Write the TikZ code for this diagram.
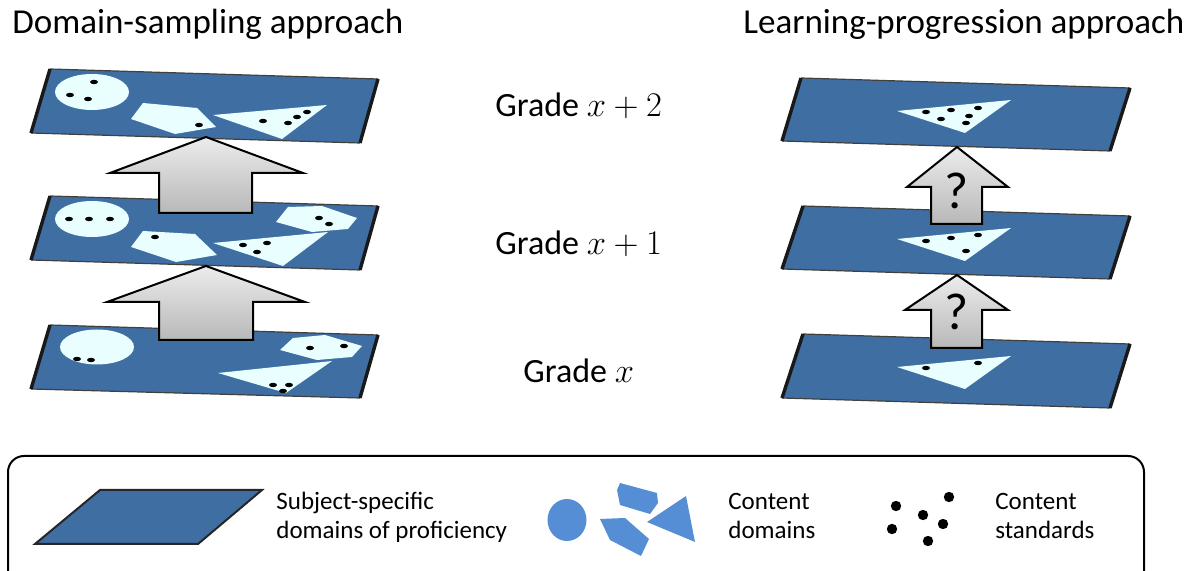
\documentclass[tikz,border=0pt]{standalone}
\usepackage{fontspec}
\setmainfont{Carlito}
\definecolor{planeblue}{RGB}{63,110,163}
\definecolor{shapecyan}{RGB}{232,254,255}
\definecolor{legblue}{RGB}{85,142,213}
\definecolor{arrtop}{RGB}{236,236,236}
\definecolor{arrbot}{RGB}{184,184,184}
\tikzset{
  planefill/.style={fill=planeblue},
  planethin/.style={draw=black!75,line width=0.6pt},
  planethick/.style={draw=black!90,line width=1.7pt},
  cshape/.style={fill=shapecyan},
  blockarrow/.style={draw=black,line width=1pt,line join=miter,top color=arrtop,bottom color=arrbot},
  titletext/.style={font=\fontsize{17.5}{20}\selectfont,inner sep=0pt},
  gradetext/.style={font=\fontsize{17}{20}\selectfont,inner sep=0pt,anchor=base west},
  legtext/.style={font=\fontsize{12.5}{15}\selectfont,inner sep=0pt,anchor=base west},
  qmark/.style={font=\fontsize{26}{30}\selectfont,inner sep=0pt},
}
\newcommand{\myplane}[4]{%
  \fill[planefill] #1 -- #2 -- #3 -- #4 -- cycle;
  \draw[planethin] #1 -- #2 #4 -- #3;
  \draw[planethick] #1 -- #4 #2 -- #3;}
\newcommand{\dt}[1]{\fill[black] #1 ellipse [x radius=2pt, y radius=1.1pt];}
\newcommand{\ldt}[1]{\fill[black] #1 circle [radius=2.6pt];}
\newcommand{\barrow}[8]{%
  \path[blockarrow] (#1,#2) -- (#5,#3) -- (#7,#3) -- (#7,#8) -- (#6,#8) -- (#6,#3) -- (#4,#3) -- cycle;}
\begin{document}
\begin{tikzpicture}[x=0.5pt,y=-0.5pt]
\useasboundingbox (0,0) rectangle (1190,571);
\clip (0,0) rectangle (1190,571);

% titles
\node[titletext,anchor=base west] (t1) at (12,34) {Domain-sampling approach};
\node[titletext,anchor=base west] (t2) at (743,34) {Learning-progression approach};

% ---------- left column ----------
% plane 1 (top)
\myplane{(50,69)}{(378,79)}{(360,143)}{(31,133)}
\fill[cshape] (92,92) ellipse [x radius=18.5pt, y radius=9pt];
\dt{(94,82)}\dt{(70,95)}\dt{(88,99)}
\fill[cshape] (143,103) -- (197,108) -- (216,127) -- (175,134) -- (131,119) -- cycle;
\dt{(199,125)}
\fill[cshape] (213,115) -- (327,105) -- (282,139) -- cycle;
\dt{(263,121)}\dt{(288,123)}\dt{(297,117)}\dt{(307,112)}

% plane 2
\myplane{(50,196)}{(378,206)}{(360,270)}{(31,260)}
\fill[cshape] (92,219) ellipse [x radius=18.5pt, y radius=9pt];
\dt{(69,219)}\dt{(89,219)}\dt{(110,219)}
\fill[cshape] (143,231) -- (195,234) -- (217,255) -- (176,262) -- (131,247) -- cycle;
\dt{(155,237)}
\fill[cshape] (213,243) -- (328,232) -- (283,266) -- cycle;
\dt{(243,245)}\dt{(267,243)}\dt{(257,252)}
\fill[cshape] (288,207) -- (322,206) -- (357,218) -- (348,229) -- (312,232) -- (276,222) -- cycle;
\dt{(319,218)}\dt{(329,224)}

% plane 3
\myplane{(50,325)}{(378,335)}{(360,398)}{(31,389)}
\fill[cshape] (97,347) ellipse [x radius=18.5pt, y radius=8.75pt];
\dt{(77,359)}\dt{(91,360)}
\fill[cshape] (293,338) -- (325,335) -- (362,346) -- (352,357) -- (317,360) -- (280,350) -- cycle;
\dt{(310,348)}\dt{(344,346)}
\fill[cshape] (218,373) -- (332,361) -- (286,393) -- cycle;
\dt{(273,385)}\dt{(289,385)}\dt{(283,391)}

% left arrows
\barrow{206}{137}{173}{110}{303}{159}{252}{213}
\barrow{206}{266}{302}{107}{305}{159}{253}{340}

% ---------- right column ----------
\myplane{(801,78)}{(1130,88)}{(1110,151)}{(782,141)}
\fill[cshape] (897,111) -- (1011,100) -- (965,133) -- cycle;
\dt{(926,112)}\dt{(951,110)}\dt{(978,108)}\dt{(941,119)}\dt{(969,116)}\dt{(966,123)}

\myplane{(803,206)}{(1130,216)}{(1110,279)}{(782,269)}
\fill[cshape] (897,239) -- (1011,228) -- (965,261) -- cycle;
\dt{(926,241)}\dt{(951,238)}\dt{(978,235)}\dt{(966,251)}

\myplane{(803,334)}{(1130,344)}{(1110,408)}{(782,398)}
\fill[cshape] (897,367) -- (1011,356) -- (965,389) -- cycle;
\dt{(926,368)}\dt{(978,363)}

\barrow{957}{147}{187}{907}{1008}{931}{982}{224}
\barrow{957}{275}{310}{905}{1008}{931}{982}{348}
\node[qmark] (q1) at (957,191) {?};
\node[qmark] (q2) at (957,312) {?};

% grade labels
\node[gradetext] (g2) at (495,117) {Grade $x+2$};
\node[gradetext] (g1) at (495,255) {Grade $x+1$};
\node[gradetext] (g0) at (523,383) {Grade $x$};

% ---------- legend ----------
\draw[line width=1pt,rounded corners=8pt] (8,456) rectangle (1144,610);
\fill[planeblue,draw=black!85,line width=1pt] (100,490) -- (262,490) -- (198,544) -- (35,544) -- cycle;
\node[legtext] (l1a) at (276,510) {Subject-specific};
\node[legtext] (l1b) at (276,539) {domains of proficiency};

\fill[legblue] (567,520) ellipse [x radius=9.75pt, y radius=10.5pt];
\fill[legblue] (620,483) -- (657,493) -- (658,503) -- (650,514) -- (620,505) -- (617,490) -- cycle;
\fill[legblue] (600,519) -- (625,518) -- (649,539) -- (641,556) -- (610,540) -- cycle;
\fill[legblue] (647,522) -- (686,496) -- (695,542) -- cycle;
\node[legtext] (l2a) at (728,510) {Content};
\node[legtext] (l2b) at (728,539) {domains};

\ldt{(896,506)}\ldt{(949,497)}\ldt{(923,515)}\ldt{(943,524)}\ldt{(892,529)}\ldt{(928,541)}
\node[legtext] (l3a) at (995,510) {Content};
\node[legtext] (l3b) at (995,539) {standards};
\end{tikzpicture}
\end{document}
